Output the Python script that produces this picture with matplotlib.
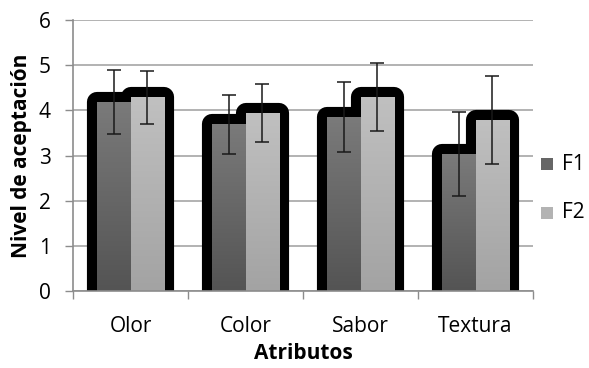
import numpy as np
import matplotlib.pyplot as plt
from matplotlib.patches import Rectangle
from matplotlib.colors import LinearSegmentedColormap

plt.rcParams['font.family'] = ['Open Sans', 'DejaVu Sans']

# datos
atributos = ['Olor', 'Color', 'Sabor', 'Textura']
f1 = [4.18, 3.69, 3.85, 3.03]
f2 = [4.29, 3.94, 4.30, 3.79]
f1_err = [0.71, 0.65, 0.78, 0.93]
f2_err = [0.59, 0.64, 0.75, 0.97]

series = [('F1', f1, f1_err, '#7a7a7a', '#545454'),
          ('F2', f2, f2_err, '#c0c0c0', '#a3a3a3')]

fig = plt.figure(figsize=(5.89, 3.68), dpi=100)
ax = fig.add_axes([73 / 589, 77 / 368, 460 / 589, 271 / 368])

x = np.arange(len(atributos))
w = 0.29
offsets = [-w / 2, w / 2]

# sombra negra (contorno grueso redondeado)
for (name, vals, errs, ctop, cbot), off in zip(series, offsets):
    ax.bar(x + off, vals, w, color='black', edgecolor='black',
           linewidth=14.5, joinstyle='round', zorder=2)

# barras con degradado
for (name, vals, errs, ctop, cbot), off in zip(series, offsets):
    cmap = LinearSegmentedColormap.from_list(name, [cbot, ctop])
    grad = np.linspace(1, 0, 100).reshape(-1, 1)
    for xi, v in zip(x + off, vals):
        rect = Rectangle((xi - w / 2, 0), w, v, facecolor='none', edgecolor='none', zorder=3)
        ax.add_patch(rect)
        im = ax.imshow(grad, cmap=cmap, extent=(xi - w / 2, xi + w / 2, 0, v),
                       aspect='auto', zorder=3, vmin=0, vmax=1)
        im.set_clip_path(rect)

# barras de error
for (name, vals, errs, ctop, cbot), off in zip(series, offsets):
    ax.errorbar(x + off, vals, yerr=errs, fmt='none', ecolor='#1a1a1a',
                elinewidth=1.1, capsize=4.7, capthick=1.1, zorder=4)

ax.set_xlim(-0.5, len(atributos) - 0.5)
ax.set_ylim(0, 6)
ax.set_yticks(range(0, 7))
ax.yaxis.grid(True, color='#a6a6a6', linewidth=1.2)
ax.set_axisbelow(True)

ax.set_xticks(x)
ax.set_xticklabels(atributos, fontsize=15)
ax.set_xticks(np.arange(-0.5, len(atributos)), minor=True)
ax.tick_params(axis='x', which='major', length=0, pad=18)
ax.tick_params(axis='x', which='minor', length=6, color='#8c8c8c', width=1)
ax.tick_params(axis='y', length=6, color='#8c8c8c', width=1, labelsize=15, pad=10)

for s in ['top', 'right']:
    ax.spines[s].set_visible(False)
for s in ['left', 'bottom']:
    ax.spines[s].set_color('#8c8c8c')
    ax.spines[s].set_linewidth(1.2)
ax.spines['bottom'].set_zorder(5)

ax.set_xlabel('Atributos', fontsize=15, fontweight='bold', labelpad=4)
ax.set_ylabel('Nivel de aceptación', fontsize=15, fontweight='bold', labelpad=5)

# leyenda
leyenda = [('F1', '#666666', 164), ('F2', '#b3b3b3', 213)]
for lab, col, yc in leyenda:
    fig.patches.append(Rectangle((541 / 589, 1 - (yc + 6) / 368), 12 / 589, 12 / 368,
                                 facecolor=col, edgecolor='none',
                                 transform=fig.transFigure, figure=fig))
    fig.text(562 / 589, 1 - yc / 368, lab, fontsize=15, va='center', ha='left')

fig.savefig('out.png', dpi=100)
